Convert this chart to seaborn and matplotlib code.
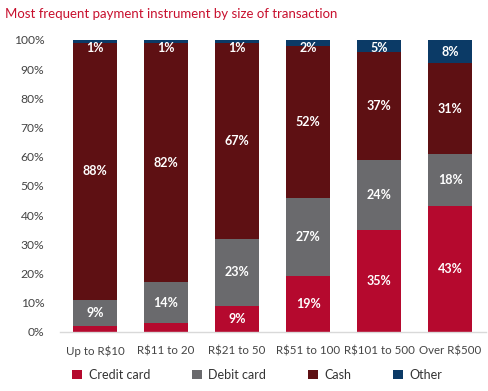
import numpy as np
import pandas as pd
import matplotlib
matplotlib.use("Agg")
import matplotlib.pyplot as plt
import seaborn as sns
from matplotlib.patches import Patch

# Dados
categories = ["Up to R$10", "R$11 to 20", "R$21 to 50", "R$51 to 100", "R$101 to 500", "Over R$500"]
credit_card = [2, 3, 9, 19, 35, 43]
debit_card = [9, 14, 23, 27, 24, 18]
cash = [88, 82, 67, 52, 37, 31]
other = [1, 1, 1, 2, 5, 8]

series_names = ["Credit card", "Debit card", "Cash", "Other"]
series_values = [credit_card, debit_card, cash, other]
colors = ["#B5092E", "#6A6A6D", "#5E1013", "#0B3A66"]

sns.set_style("white")
plt.rcParams["font.family"] = ["Lato", "DejaVu Sans"]

df = pd.DataFrame({"category": categories})
cum = np.zeros(len(categories))
bottoms = []
for name, vals in zip(series_names, series_values):
    bottoms.append(cum.copy())
    cum = cum + np.array(vals)
    df[name + "_top"] = cum

fig = plt.figure(figsize=(4.89, 3.91), dpi=100)
ax = fig.add_axes([0.1217, 0.151, 0.8713, 0.7467])

# barras empilhadas: desenha do total acumulado maior para o menor
for name, color in reversed(list(zip(series_names, colors))):
    sns.barplot(data=df, x="category", y=name + "_top", color=color,
                width=0.62, saturation=1, ax=ax, linewidth=0)

# rótulos de percentagem
for i in range(len(categories)):
    for k, (name, vals) in enumerate(zip(series_names, series_values)):
        v = vals[i]
        if name == "Credit card" and v < 5:
            continue
        ypos = bottoms[k][i] + v / 2
        if name == "Other":
            ypos = min(ypos, 97.4)
        ax.text(i, ypos, f"{v}%", ha="center", va="center", color="white",
                fontsize=9, fontweight="bold")

ax.set_ylim(0, 100)
ax.set_xlim(-0.5, 5.5)
ax.set_yticks(range(0, 101, 10))
ax.set_yticklabels([f"{t}%" for t in range(0, 101, 10)])
ax.set_xlabel("")
ax.set_ylabel("")
ax.tick_params(axis="both", length=0, colors="#444444")
ax.tick_params(axis="y", pad=11, labelsize=8.7)
ax.tick_params(axis="x", pad=10, labelsize=8.3)
for s in ["top", "right", "left"]:
    ax.spines[s].set_visible(False)
ax.spines["bottom"].set_color("#D9D9D9")
ax.spines["bottom"].set_linewidth(1)

fig.text(0.01, 0.98, "Most frequent payment instrument by size of transaction",
         color="#C8102E", fontsize=9.5, ha="left", va="top")

handles = [Patch(facecolor=c, edgecolor="none") for c in colors]
fig.legend(handles, series_names, loc="center left", bbox_to_anchor=(0.125, 0.041),
           ncol=4, frameon=False, fontsize=9, handlelength=0.8, handleheight=0.8,
           handletextpad=0.5, columnspacing=3.35, labelcolor="#333333")

fig.savefig("out.png", dpi=100)
